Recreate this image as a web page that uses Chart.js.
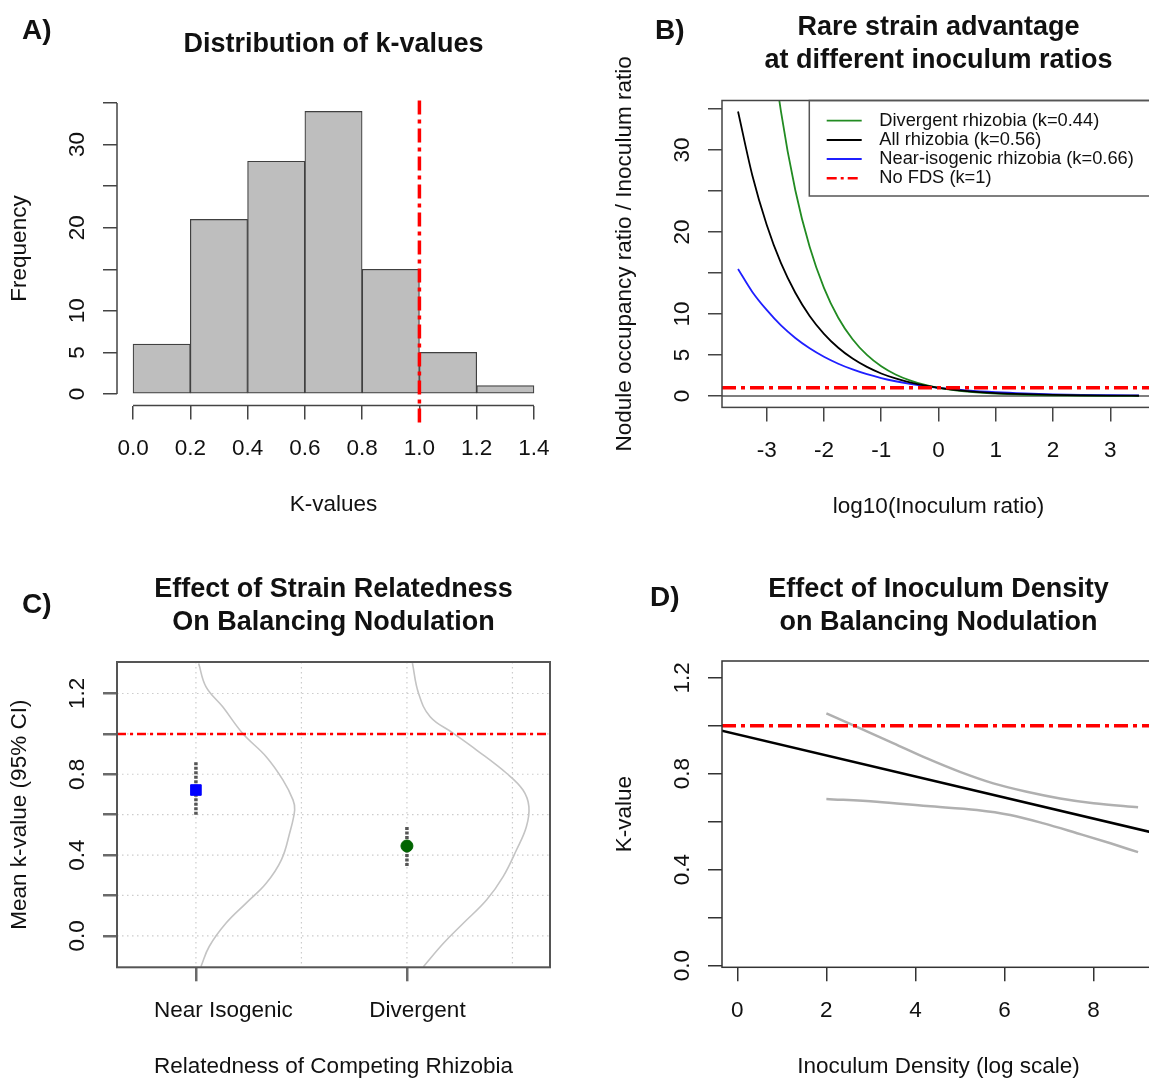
<!DOCTYPE html>
<html>
<head>
<meta charset="utf-8">
<title>k-value figure</title>
<script src="https://cdn.jsdelivr.net/npm/chart.js@4.4.1/dist/chart.umd.min.js"></script>
<style>
  html, body { margin: 0; padding: 0; background: #fff; overflow: hidden; }
  #page { position: relative; width: 1149px; height: 1078px; overflow: hidden; }
  canvas { position: absolute; }
</style>
</head>
<body>
<div id="page">
  <canvas id="panelA" width="575" height="540" style="left:0;top:0"></canvas>
  <canvas id="panelB" width="585" height="540" style="left:575px;top:0"></canvas>
  <canvas id="panelC" width="575" height="538" style="left:0;top:540px"></canvas>
  <canvas id="panelD" width="585" height="538" style="left:575px;top:540px"></canvas>
</div>
<script>
// ---------- data ----------
// A) histogram of k-values
const kBinMid = [0.1, 0.3, 0.5, 0.7, 0.9, 1.1, 1.3];
const kFreq = [6, 21, 28, 34, 15, 5, 1];
const kTicks = [0, 0.2, 0.4, 0.6, 0.8, 1.0, 1.2, 1.4];
const kTickLabels = ["0.0", "0.2", "0.4", "0.6", "0.8", "1.0", "1.2", "1.4"];
const freqTicks = [0, 5, 10, 15, 20, 25, 30, 35];
const freqTickLabels = ["0", "5", "10", "", "20", "", "30", ""];
const noFdsK = 1;

// B) rare strain advantage vs log10 inoculum ratio
const logRatio = [-3.5, -3.25, -3, -2.75, -2.5, -2.25, -2, -1.75, -1.5, -1.25, -1, -0.75, -0.5, -0.25, 0, 0.5, 1, 1.5, 2, 2.5, 3, 3.5];
const divergentAdv = [91.2, 66.1, 47.9, 34.7, 25.1, 18.2, 13.2, 9.55, 6.92, 5.01, 3.63, 2.63, 1.91, 1.38, 1, 0.53, 0.28, 0.15, 0.08, 0.04, 0.02, 0.01];
const allAdv = [34.7, 26.9, 20.9, 16.2, 12.6, 9.77, 7.59, 5.89, 4.57, 3.55, 2.75, 2.14, 1.66, 1.29, 1, 0.60, 0.36, 0.22, 0.13, 0.08, 0.05, 0.03];
const nearIsoAdv = [15.5, 12.7, 10.5, 8.61, 7.08, 5.82, 4.79, 3.94, 3.24, 2.66, 2.19, 1.80, 1.48, 1.22, 1, 0.68, 0.46, 0.31, 0.21, 0.14, 0.10, 0.07];
const legendLabels = ["Divergent rhizobia (k=0.44)", "All rhizobia (k=0.56)", "Near-isogenic rhizobia (k=0.66)", "No FDS (k=1)"];
const ratioTicks = [-3, -2, -1, 0, 1, 2, 3];
const ratioTickLabels = ["-3", "-2", "-1", "0", "1", "2", "3"];
const advTicks = [0, 5, 10, 15, 20, 25, 30, 35];
const advTickLabels = ["0", "5", "10", "", "20", "", "30", ""];
const noFdsRatio = 1;

// C) mean k by relatedness, with density outlines
const groups = ["Near Isogenic", "Divergent"];
const groupPos = [1, 2];
const groupLabelPos = [1.13, 2.05];
const meanK = [0.722, 0.445];
const ciLow = [0.60, 0.346];
const ciHigh = [0.862, 0.54];
const nearDensX = [1.013, 1.048, 1.127, 1.222, 1.333, 1.412, 1.46, 1.468, 1.444, 1.405, 1.333, 1.238, 1.143, 1.063, 1.024];
const nearDensY = [1.348, 1.233, 1.134, 1.002, 0.887, 0.772, 0.673, 0.623, 0.508, 0.376, 0.26, 0.162, 0.063, -0.053, -0.152];
const divDensX = [2.026, 2.055, 2.11, 2.22, 2.33, 2.472, 2.55, 2.578, 2.566, 2.519, 2.456, 2.377, 2.267, 2.173, 2.078];
const divDensY = [1.35, 1.201, 1.085, 1.003, 0.92, 0.805, 0.722, 0.64, 0.54, 0.425, 0.293, 0.177, 0.062, -0.037, -0.153];
const meanTicks = [0, 0.2, 0.4, 0.6, 0.8, 1.0, 1.2];
const meanTickLabels = ["0.0", "", "0.4", "", "0.8", "", "1.2"];
const groupGrid = [1, 1.5, 2, 2.5];

// D) k vs inoculum density
const densTicks = [0, 2, 4, 6, 8];
const densTickLabels = ["0", "2", "4", "6", "8"];
const fitDensity = [-0.5, 9.5];
const fitK = [0.986, 0.547];
const upperDensity = [2, 2.76, 3.51, 4.26, 5, 5.75, 6.5, 7.25, 8, 9];
const upperK = [1.052, 0.989, 0.927, 0.864, 0.808, 0.76, 0.725, 0.697, 0.677, 0.66];
const lowerDensity = [2, 3.13, 4.26, 5.38, 6.13, 6.88, 7.63, 8.38, 9];
const lowerK = [0.695, 0.683, 0.665, 0.649, 0.628, 0.593, 0.552, 0.51, 0.473];
const kTicksD = [0, 0.2, 0.4, 0.6, 0.8, 1.0, 1.2];
const kTickLabelsD = ["0.0", "", "0.4", "", "0.8", "", "1.2"];

// ---------- look ----------
const FAM = "'Liberation Sans', Arial, Helvetica, sans-serif";
const INK = "#111";
const TICK_FONT = "22.5px " + FAM;
const TITLE_FONT = "bold 27px " + FAM;
const LETTER_FONT = "bold 28px " + FAM;
const LEGEND_FONT = "18.3px " + FAM;
const RED_DASH = [14, 5, 4, 5];

const pts = (xs, ys) => xs.map((x, i) => ({ x: x, y: ys[i] }));

function label(ctx, s, x, y, font, rot, align) {
  ctx.save();
  ctx.translate(x, y);
  if (rot) ctx.rotate(rot);
  ctx.font = font;
  ctx.fillStyle = INK;
  ctx.textAlign = align || "center";
  ctx.textBaseline = "middle";
  ctx.fillText(s, 0, 0);
  ctx.restore();
}

// R-like axis: fixed tick values, tick marks outside, labels drawn by the decor plugin
function axis(min, max, ticks, size, horizontal, color, width) {
  return {
    type: "linear",
    min: min,
    max: max,
    offset: false,
    afterBuildTicks: s => { s.ticks = ticks.map(v => ({ value: v })); },
    afterFit: s => { if (horizontal) s.height = size; else s.width = size; },
    ticks: { display: false },
    border: { display: false },
    grid: {
      display: true, offset: false, drawOnChartArea: false, drawTicks: true,
      tickLength: 14, tickColor: color, tickWidth: width, color: color, lineWidth: width
    }
  };
}

function decor(d) {
  return {
    id: "decor",
    beforeDatasetsDraw(chart) {
      if (!d.gridX) return;
      const ctx = chart.ctx, xs = chart.scales.x, ys = chart.scales.y, a = chart.chartArea;
      ctx.save();
      ctx.strokeStyle = "#cccccc";
      ctx.lineWidth = 1.2;
      ctx.setLineDash([1.5, 3.5]);
      d.gridX.forEach(v => {
        const px = xs.getPixelForValue(v);
        ctx.beginPath(); ctx.moveTo(px, a.top); ctx.lineTo(px, a.bottom); ctx.stroke();
      });
      d.gridY.forEach(v => {
        const py = ys.getPixelForValue(v);
        ctx.beginPath(); ctx.moveTo(a.left, py); ctx.lineTo(a.right, py); ctx.stroke();
      });
      ctx.restore();
    },
    afterDraw(chart) {
      const ctx = chart.ctx, xs = chart.scales.x, ys = chart.scales.y, a = chart.chartArea;
      ctx.save();
      ctx.strokeStyle = d.axisColor;
      ctx.lineWidth = d.axisWidth;
      if (d.box) {
        ctx.strokeRect(a.left, a.top, a.right - a.left, a.bottom - a.top);
      } else {
        ctx.beginPath();
        ctx.moveTo(xs.getPixelForValue(d.xTicks[0]), a.bottom);
        ctx.lineTo(xs.getPixelForValue(d.xTicks[d.xTicks.length - 1]), a.bottom);
        ctx.moveTo(a.left, ys.getPixelForValue(d.yTicks[0]));
        ctx.lineTo(a.left, ys.getPixelForValue(d.yTicks[d.yTicks.length - 1]));
        ctx.stroke();
      }
      ctx.restore();

      const labelAt = d.xLabelAt || d.xTicks;
      d.xLabels.forEach((s, i) => label(ctx, s, xs.getPixelForValue(labelAt[i]), a.bottom + 43, TICK_FONT));
      d.yLabels.forEach((s, i) => {
        if (s) label(ctx, s, a.left - 39, ys.getPixelForValue(d.yTicks[i]), TICK_FONT, -Math.PI / 2);
      });
      label(ctx, d.xTitle, (a.left + a.right) / 2, a.bottom + 99, TICK_FONT);
      label(ctx, d.yTitle, a.left - 97, (a.top + a.bottom) / 2, TICK_FONT, -Math.PI / 2);
      d.title.forEach((s, i) => label(ctx, s, (a.left + a.right) / 2, d.titleY[i] - d.oy, TITLE_FONT));
      label(ctx, d.letter[0], d.letter[1] - d.ox, d.letter[2] - d.oy, LETTER_FONT, 0, "left");

      if (d.legend) {
        const L = d.legend;
        ctx.save();
        ctx.strokeStyle = "#555";
        ctx.lineWidth = 1.5;
        ctx.strokeRect(L.left - d.ox, a.top, chart.width + 20 - (L.left - d.ox), L.bottom - d.oy - a.top);
        ctx.restore();
        L.labels.forEach((s, i) => {
          const ds = chart.data.datasets[L.datasets[i]];
          const y = L.rowY[i] - d.oy;
          ctx.save();
          ctx.strokeStyle = ds.borderColor;
          ctx.lineWidth = Math.min(ds.borderWidth, 2.5);
          ctx.setLineDash(ds.borderDash ? [10, 4, 3, 4] : []);
          ctx.beginPath(); ctx.moveTo(L.x0 - d.ox, y); ctx.lineTo(L.x1 - d.ox, y); ctx.stroke();
          ctx.restore();
          label(ctx, s, L.textX - d.ox, y, LEGEND_FONT, 0, "left");
        });
      }
    }
  };
}

// place the plot region at page coordinates [left, top, right, bottom]
function frame(ox, oy, w, h, area) {
  return {
    padding: { left: 0, top: area[1] - oy, right: ox + w - area[2], bottom: 0 },
    yWidth: area[0] - ox,
    xHeight: oy + h - area[3]
  };
}

function baseOptions(f, xr, yr, xTicks, yTicks, axisColor, tickWidth) {
  return {
    responsive: false,
    animation: false,
    events: [],
    layout: { padding: f.padding },
    plugins: { legend: { display: false }, tooltip: { enabled: false } },
    scales: {
      x: axis(xr[0], xr[1], xTicks, f.xHeight, true, axisColor, tickWidth),
      y: axis(yr[0], yr[1], yTicks, f.yWidth, false, axisColor, tickWidth)
    }
  };
}

const line = (data, color, width, extra) => Object.assign({
  type: "line", data: data, borderColor: color, borderWidth: width,
  pointRadius: 0, fill: false, tension: 0
}, extra || {});

// ---------- A ----------
const fA = frame(0, 0, 575, 540, [117, 91.4, 550, 405.6]);
const xrA = [-0.056, 1.456], yrA = [-1.4, 36.4];
new Chart(document.getElementById("panelA"), {
  type: "bar",
  data: {
    datasets: [
      line(pts([noFdsK, noFdsK], [35.3, -4]), "#ff0000", 3.5, { borderDash: RED_DASH, clip: false, order: 0 }),
      {
        type: "bar", data: pts(kBinMid, kFreq), backgroundColor: "#bebebe",
        borderColor: "#404040", borderWidth: 1.2, borderSkipped: false,
        barPercentage: 1, categoryPercentage: 1, order: 1
      }
    ]
  },
  options: baseOptions(fA, xrA, yrA, kTicks, freqTicks, "#444", 1.5),
  plugins: [decor({
    ox: 0, oy: 0, box: false, axisColor: "#444", axisWidth: 1.5,
    xTicks: kTicks, xLabels: kTickLabels, yTicks: freqTicks, yLabels: freqTickLabels,
    xTitle: "K-values", yTitle: "Frequency",
    title: ["Distribution of k-values"], titleY: [45],
    letter: ["A)", 22, 31]
  })]
});

// ---------- B ----------
const fB = frame(575, 0, 585, 540, [722, 100.5, 1155, 407.4]);
const xrB = [-3.78, 3.78], yrB = [-1.39, 36.05];
new Chart(document.getElementById("panelB"), {
  type: "line",
  data: {
    datasets: [
      line(pts(logRatio, divergentAdv), "#228b22", 1.8, { cubicInterpolationMode: "monotone", order: 3 }),
      line(pts(logRatio, allAdv), "#000000", 1.8, { cubicInterpolationMode: "monotone", order: 2 }),
      line(pts(logRatio, nearIsoAdv), "#1f1fff", 1.8, { cubicInterpolationMode: "monotone", order: 4 }),
      line(pts(xrB, [noFdsRatio, noFdsRatio]), "#ff0000", 3.5, { borderDash: RED_DASH, order: 1 }),
      line(pts(xrB, [0, 0]), "#555555", 1.5, { order: 5 })
    ]
  },
  options: baseOptions(fB, xrB, yrB, ratioTicks, advTicks, "#444", 1.5),
  plugins: [decor({
    ox: 575, oy: 0, box: true, axisColor: "#444", axisWidth: 1.5,
    xTicks: ratioTicks, xLabels: ratioTickLabels, yTicks: advTicks, yLabels: advTickLabels,
    xTitle: "log10(Inoculum ratio)", yTitle: "Nodule occupancy ratio / Inoculum ratio",
    title: ["Rare strain advantage", "at different inoculum ratios"], titleY: [28, 61],
    letter: ["B)", 655, 31],
    legend: {
      labels: legendLabels, datasets: [0, 1, 2, 3],
      left: 809.3, bottom: 196, x0: 826.7, x1: 861.7, textX: 879.3,
      rowY: [120.7, 140, 159, 178.3]
    }
  })]
});

// ---------- C ----------
const fC = frame(0, 540, 575, 538, [117, 662, 550, 967.3]);
const xrC = [0.626, 2.678], yrC = [-0.156, 1.356];
new Chart(document.getElementById("panelC"), {
  type: "line",
  data: {
    datasets: [
      line(pts(nearDensX, nearDensY), "#c4c4c4", 1.6, { tension: 0.4, order: 6 }),
      line(pts(divDensX, divDensY), "#c4c4c4", 1.6, { tension: 0.4, order: 6 }),
      line(pts(xrC, [1, 1]), "#ff0000", 2.5, { borderDash: [9, 4, 3, 4], order: 5 }),
      line(pts([groupPos[0], groupPos[0]], [ciLow[0], ciHigh[0]]), "#555555", 3.5, { borderDash: [3, 1.5], order: 4 }),
      line(pts([groupPos[1], groupPos[1]], [ciLow[1], ciHigh[1]]), "#555555", 3.5, { borderDash: [3, 1.5], order: 4 }),
      {
        type: "line", data: pts([groupPos[0]], [meanK[0]]), showLine: false,
        pointStyle: "rect", pointRadius: 7.5, pointBackgroundColor: "#0000ff",
        pointBorderColor: "#0000ff", pointBorderWidth: 1, order: 1
      },
      {
        type: "line", data: pts([groupPos[1]], [meanK[1]]), showLine: false,
        pointStyle: "circle", pointRadius: 6, pointBackgroundColor: "#006400",
        pointBorderColor: "#006400", pointBorderWidth: 1, order: 1
      }
    ]
  },
  options: baseOptions(fC, xrC, yrC, groupPos, meanTicks, "#6a6a6a", 2.5),
  plugins: [decor({
    ox: 0, oy: 540, box: true, axisColor: "#555", axisWidth: 2,
    gridX: groupGrid, gridY: meanTicks,
    xTicks: groupPos, xLabelAt: groupLabelPos, xLabels: groups,
    yTicks: meanTicks, yLabels: meanTickLabels,
    xTitle: "Relatedness of Competing Rhizobia", yTitle: "Mean k-value (95% CI)",
    title: ["Effect of Strain Relatedness", "On Balancing Nodulation"], titleY: [590, 623],
    letter: ["C)", 22, 605]
  })]
});

// ---------- D ----------
const fD = frame(575, 540, 585, 538, [722, 661, 1155, 967.3]);
const xrD = [-0.344, 9.38], yrD = [-0.007, 1.27];
new Chart(document.getElementById("panelD"), {
  type: "line",
  data: {
    datasets: [
      line(pts(upperDensity, upperK), "#b0b0b0", 2.5, { cubicInterpolationMode: "monotone", order: 3 }),
      line(pts(lowerDensity, lowerK), "#b0b0b0", 2.5, { cubicInterpolationMode: "monotone", order: 3 }),
      line(pts(fitDensity, fitK), "#000000", 2.5, { order: 2 }),
      line(pts(xrD, [1, 1]), "#ff0000", 3.5, { borderDash: RED_DASH, order: 1 })
    ]
  },
  options: baseOptions(fD, xrD, yrD, densTicks, kTicksD, "#333", 1.5),
  plugins: [decor({
    ox: 575, oy: 540, box: true, axisColor: "#333", axisWidth: 1.5,
    xTicks: densTicks, xLabels: densTickLabels, yTicks: kTicksD, yLabels: kTickLabelsD,
    xTitle: "Inoculum Density (log scale)", yTitle: "K-value",
    title: ["Effect of Inoculum Density", "on Balancing Nodulation"], titleY: [590, 623],
    letter: ["D)", 650, 598]
  })]
});
</script>
</body>
</html>
